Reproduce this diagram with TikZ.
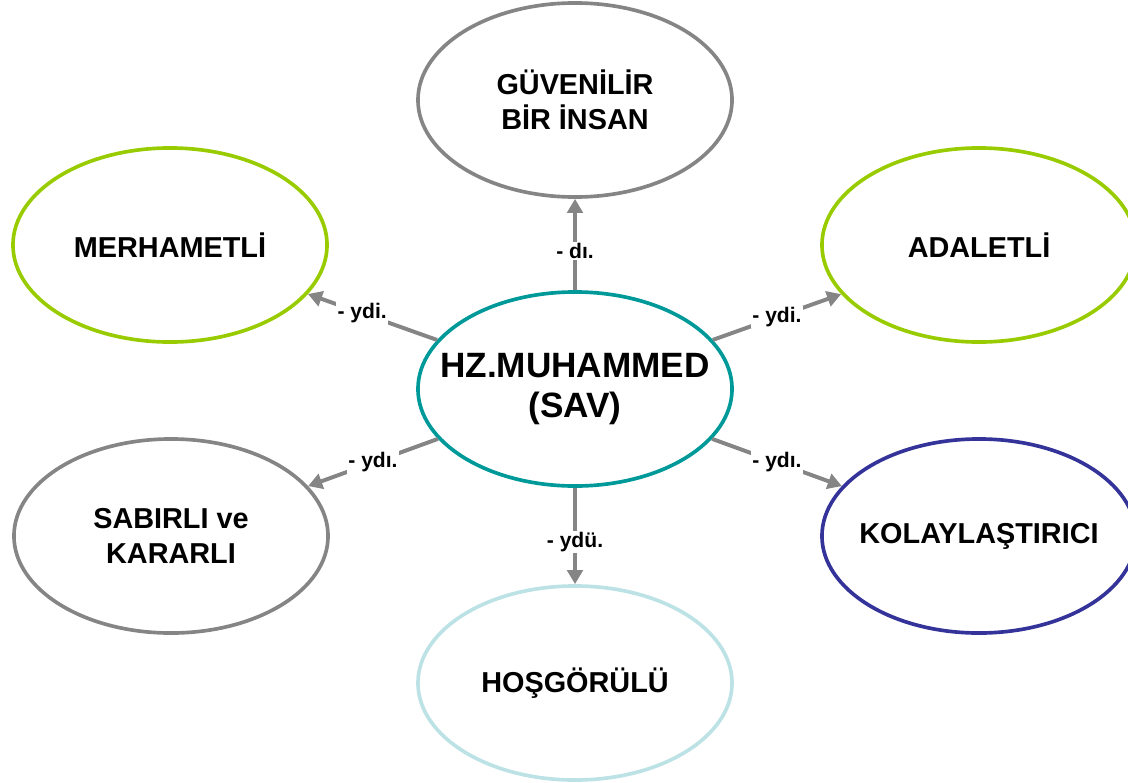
\documentclass[tikz,border=0pt]{standalone}
\usepackage{fontspec}
\setmainfont{Liberation Sans}
\usetikzlibrary{shapes.geometric,arrows.meta}
\definecolor{ringgray}{HTML}{858585}
\definecolor{ringgreen}{HTML}{99CC00}
\definecolor{ringteal}{HTML}{009999}
\definecolor{ringnavy}{HTML}{333399}
\definecolor{ringblue}{HTML}{BCE2E6}
\definecolor{arrowgray}{HTML}{858585}
\begin{document}
\begin{tikzpicture}[x=0.025cm,y=-0.025cm,
    trait/.style={ellipse,draw,line width=2.6pt,minimum width=7.85cm,minimum height=4.85cm,
        inner xsep=-3cm,inner ysep=-2cm,align=center,font=\fontsize{20.5}{24.5}\selectfont\bfseries},
    link/.style={-{Triangle[length=10pt,width=11pt]},arrowgray,line width=2.8pt},
    suffix/.style={fill=white,inner sep=1pt,text=black,font=\fontsize{15}{17}\selectfont\bfseries}]
    \useasboundingbox (0,0) rectangle (1128,782);
    %draw ellipses
    \node[trait,draw=ringteal,font=\fontsize{25}{29}\selectfont\bfseries] (muh) at (575,389) {HZ.MUHAMMED\\(SAV)};
    \node[trait,draw=ringgray] (guven) at (575,100) {GÜVENİLİR\\BİR İNSAN};
    \node[trait,draw=ringgreen] (merh) at (170,245) {MERHAMETLİ};
    \node[trait,draw=ringgreen] (adalet) at (979,245) {ADALETLİ};
    \node[trait,draw=ringgray] (sabir) at (171,536) {SABIRLI ve\\KARARLI};
    \node[trait,draw=ringnavy] (kolay) at (979,536) {KOLAYLAŞTIRICI};
    \node[trait,draw=ringblue] (hosgor) at (575,683) {HOŞGÖRÜLÜ};
    %draw arrows
    \draw[link] (muh) -- node[suffix,pos=0.43] (sguven) {- dı.} (guven);
    \draw[link] (muh) -- node[suffix,pos=0.58] (smerh) {- ydi.} (merh);
    \draw[link] (muh) -- node[suffix] (sadalet) {- ydi.} (adalet);
    \draw[link] (muh) -- node[suffix] (ssabir) {- ydı.} (sabir);
    \draw[link] (muh) -- node[suffix] (skolay) {- ydı.} (kolay);
    \draw[link] (muh) -- node[suffix,pos=0.56] (shosgor) {- ydü.} (hosgor);
\end{tikzpicture}
\end{document}
